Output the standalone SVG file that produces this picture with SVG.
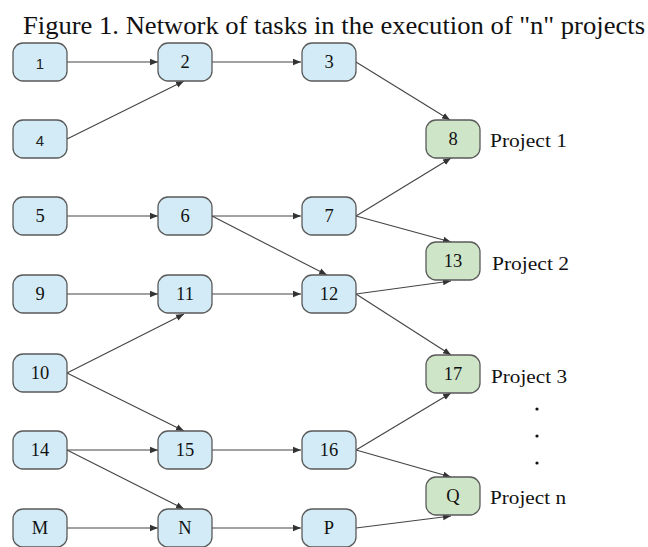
<svg xmlns="http://www.w3.org/2000/svg" width="648" height="547" viewBox="0 0 648 547">
<defs>
<marker id="ah" viewBox="0 0 10 10" refX="10" refY="5" markerWidth="8" markerHeight="8" markerUnits="userSpaceOnUse" orient="auto"><path d="M0,1 L10,5 L0,9 z" fill="#333"/></marker>
</defs>
<style>
.t{fill:#d2ebf6;stroke:#5a5a5a;stroke-width:1.3}
.p{fill:#cfe5c8;stroke:#5a5a5a;stroke-width:1.3}
.lb{font-family:"Liberation Serif",serif;font-size:18.5px;fill:#111;text-anchor:middle;dominant-baseline:central}
.ls{font-family:"Liberation Sans",sans-serif;font-size:15px;fill:#222;text-anchor:middle;dominant-baseline:central}
.pl{font-family:"Liberation Serif",serif;font-size:19.5px;fill:#111;dominant-baseline:central}
#edges line{stroke:#444;stroke-width:1.1;marker-end:url(#ah)}
</style>
<rect width="648" height="547" fill="#fff"/>
<text x="334" y="34" font-family="Liberation Serif,serif" font-size="25" text-anchor="middle" textLength="622" lengthAdjust="spacingAndGlyphs" fill="#111">Figure 1. Network of tasks in the execution of "n" projects</text>
<g id="edges">
<line x1="67" y1="62" x2="158" y2="62"/>
<line x1="67" y1="139" x2="184" y2="81"/>
<line x1="212" y1="62" x2="301" y2="62"/>
<line x1="356" y1="62" x2="450" y2="120"/>
<line x1="67" y1="216" x2="158" y2="216"/>
<line x1="212" y1="216" x2="301" y2="216"/>
<line x1="212" y1="216" x2="327" y2="275"/>
<line x1="356" y1="216" x2="451" y2="158"/>
<line x1="356" y1="216" x2="451" y2="242"/>
<line x1="67" y1="294" x2="158" y2="294"/>
<line x1="212" y1="294" x2="301" y2="294"/>
<line x1="356" y1="294" x2="451" y2="281"/>
<line x1="356" y1="294" x2="451" y2="355"/>
<line x1="67" y1="373" x2="184" y2="314"/>
<line x1="67" y1="373" x2="184" y2="431"/>
<line x1="67" y1="450" x2="158" y2="450"/>
<line x1="67" y1="450" x2="184" y2="509"/>
<line x1="212" y1="450" x2="301" y2="450"/>
<line x1="356" y1="450" x2="451" y2="393"/>
<line x1="356" y1="450" x2="451" y2="477"/>
<line x1="67" y1="528" x2="158" y2="528"/>
<line x1="212" y1="528" x2="301" y2="528"/>
<line x1="356" y1="528" x2="451" y2="516"/>
</g>
<g id="n1"><rect class="t" x="13" y="43" width="54" height="38" rx="10"/><text class="ls" x="40" y="63">1</text></g>
<g id="n2"><rect class="t" x="158" y="43" width="54" height="38" rx="10"/><text class="lb" x="185" y="62">2</text></g>
<g id="n3"><rect class="t" x="302" y="43" width="54" height="38" rx="10"/><text class="lb" x="329" y="62">3</text></g>
<g id="n4"><rect class="t" x="13" y="120" width="54" height="38" rx="10"/><text class="ls" x="40" y="140">4</text></g>
<g id="n8"><rect class="p" x="426" y="120" width="54" height="38" rx="10"/><text class="lb" x="453" y="139">8</text><text class="pl" x="490" y="140" textLength="77" lengthAdjust="spacingAndGlyphs">Project 1</text></g>
<g id="n5"><rect class="t" x="13" y="197" width="54" height="38" rx="10"/><text class="lb" x="40" y="216">5</text></g>
<g id="n6"><rect class="t" x="158" y="197" width="54" height="38" rx="10"/><text class="lb" x="185" y="216">6</text></g>
<g id="n7"><rect class="t" x="302" y="197" width="54" height="38" rx="10"/><text class="lb" x="329" y="216">7</text></g>
<g id="n13"><rect class="p" x="426" y="242" width="54" height="38" rx="10"/><text class="lb" x="453" y="261">13</text><text class="pl" x="492" y="263" textLength="77" lengthAdjust="spacingAndGlyphs">Project 2</text></g>
<g id="n9"><rect class="t" x="13" y="275" width="54" height="38" rx="10"/><text class="lb" x="40" y="294">9</text></g>
<g id="n11"><rect class="t" x="158" y="275" width="54" height="38" rx="10"/><text class="lb" x="185" y="294">11</text></g>
<g id="n12"><rect class="t" x="302" y="275" width="54" height="38" rx="10"/><text class="lb" x="329" y="294">12</text></g>
<g id="n10"><rect class="t" x="13" y="354" width="54" height="38" rx="10"/><text class="lb" x="40" y="373">10</text></g>
<g id="n17"><rect class="p" x="426" y="355" width="54" height="38" rx="10"/><text class="lb" x="453" y="374">17</text><text class="pl" x="491" y="376" textLength="76" lengthAdjust="spacingAndGlyphs">Project 3</text></g>
<g id="dots" fill="#111"><circle cx="537" cy="409" r="1.6"/><circle cx="537" cy="436" r="1.6"/><circle cx="537" cy="463" r="1.6"/></g>
<g id="n14"><rect class="t" x="13" y="431" width="54" height="38" rx="10"/><text class="lb" x="40" y="450">14</text></g>
<g id="n15"><rect class="t" x="158" y="431" width="54" height="38" rx="10"/><text class="lb" x="185" y="450">15</text></g>
<g id="n16"><rect class="t" x="302" y="431" width="54" height="38" rx="10"/><text class="lb" x="329" y="450">16</text></g>
<g id="nQ"><rect class="p" x="426" y="477" width="54" height="38" rx="10"/><text class="lb" x="453" y="496">Q</text><text class="pl" x="490" y="497" textLength="76" lengthAdjust="spacingAndGlyphs">Project n</text></g>
<g id="nM"><rect class="t" x="13" y="509" width="54" height="38" rx="10"/><text class="lb" x="40" y="528">M</text></g>
<g id="nN"><rect class="t" x="158" y="509" width="54" height="38" rx="10"/><text class="lb" x="185" y="528">N</text></g>
<g id="nP"><rect class="t" x="302" y="509" width="54" height="38" rx="10"/><text class="lb" x="329" y="528">P</text></g>
</svg>
